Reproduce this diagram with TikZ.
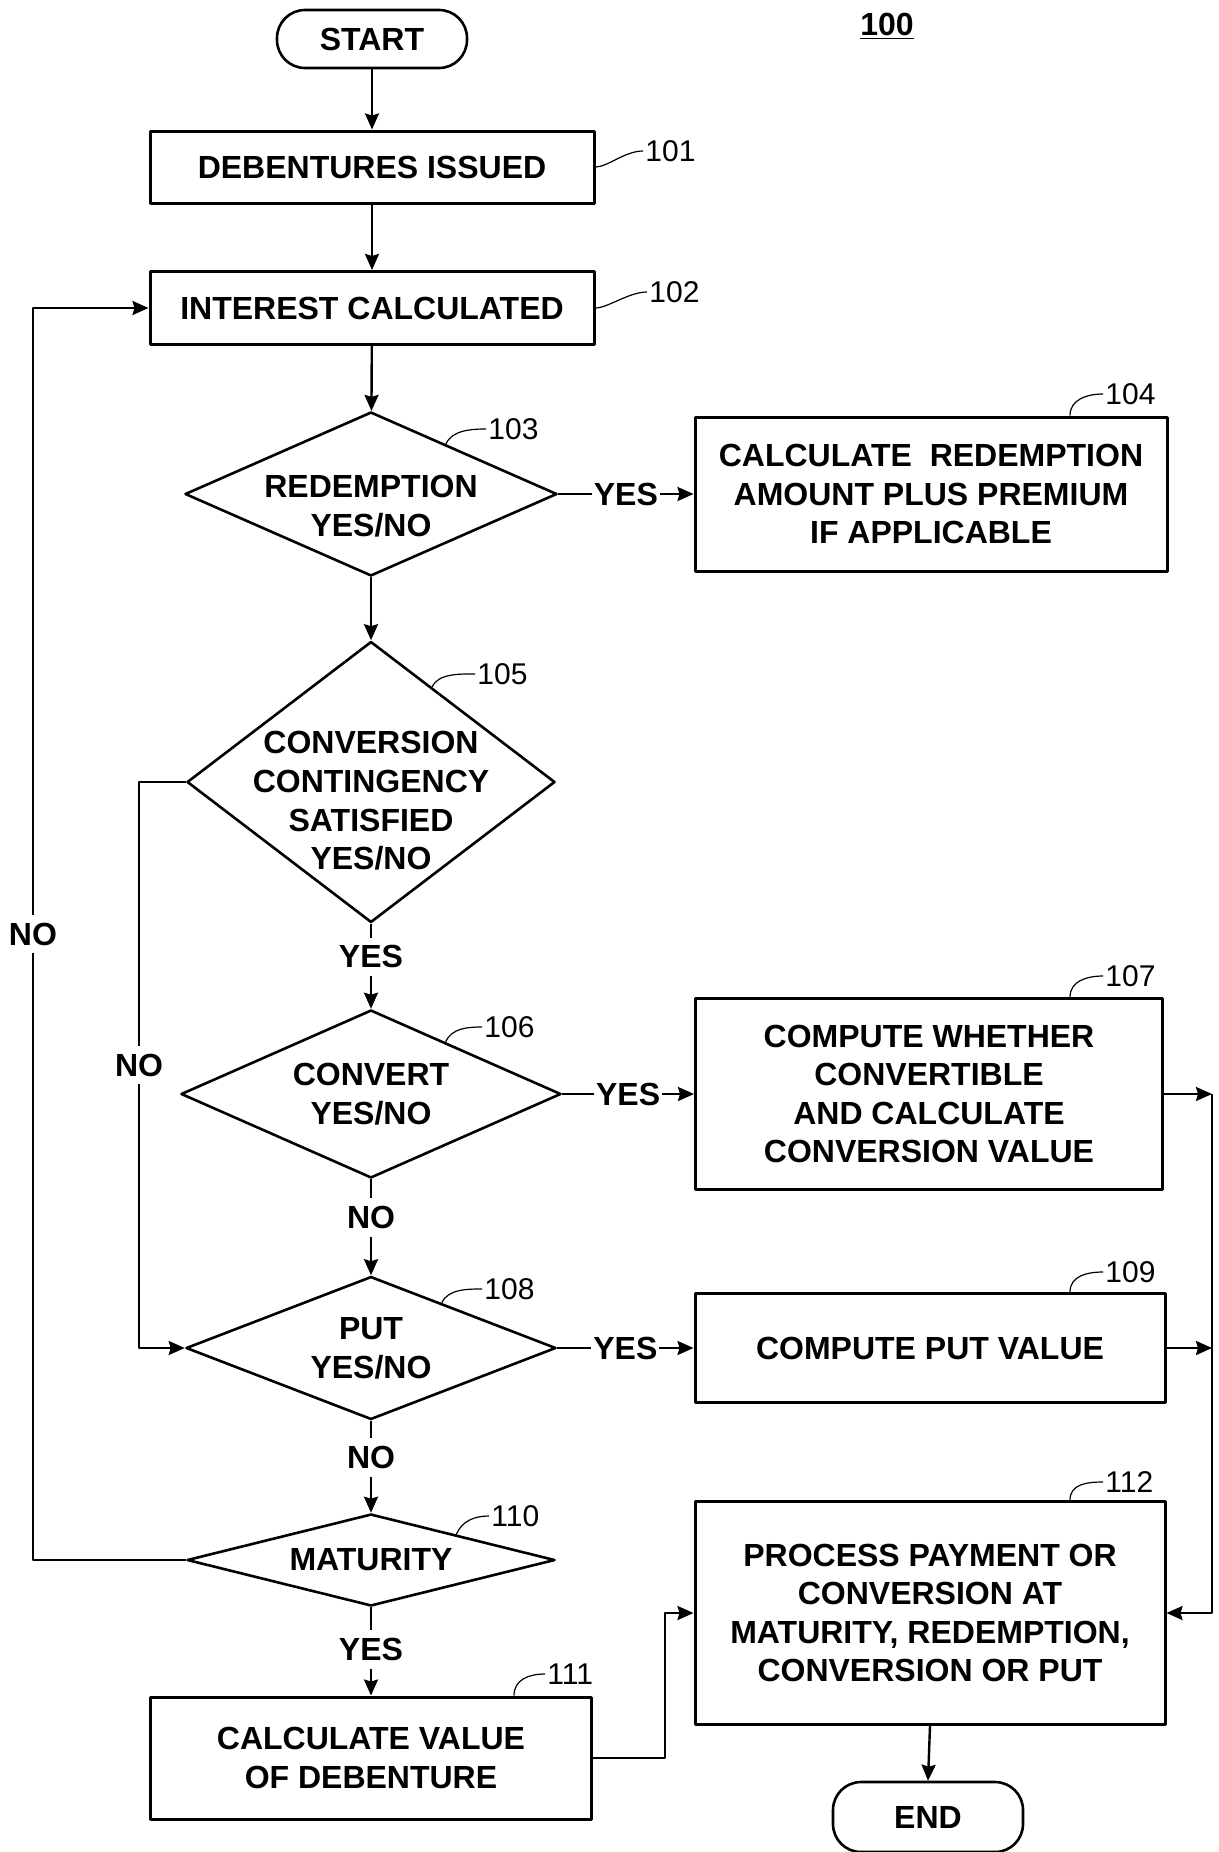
\documentclass[tikz,border=0pt]{standalone}
\usepackage{fontspec}
\setmainfont{Liberation Sans}
\usetikzlibrary{shapes.geometric,arrows.meta,calc}
\newcommand\flowfont{\fontsize{16}{19.3}\selectfont\bfseries}
\newcommand\reffont{\fontsize{15}{18}\selectfont}
\tikzset{
  terminal/.style={draw, line width=1.3pt, rounded corners=14pt, minimum width=95pt, minimum height=#1, inner sep=0pt, font=\flowfont},
  process/.style={draw, line width=1.5pt, align=center, inner sep=0pt, font=\flowfont},
  decision/.style={diamond, draw, line width=1.3pt, inner sep=0pt},
  txt/.style={align=center, inner sep=0pt, font=\flowfont},
  refnum/.style={anchor=west, inner sep=1pt, font=\reffont},
  leader/.style={line width=0.6pt},
  flow/.style={line width=1.2pt, -{Stealth[length=8pt,width=7pt,inset=1pt]}},
  lab/.style={fill=white, inner xsep=1pt, inner ysep=4pt, font=\flowfont}
}
\begin{document}
\begin{tikzpicture}[x=0.5pt, y=-0.5pt, line join=round]
\useasboundingbox (0,0) rectangle (1219,1852);
% main column
\node[terminal=29pt] (start) at (372,39) {START};
\node[font=\flowfont] (fig) at (887,26) {\underline{100}};
\node[process, minimum width=222pt, minimum height=36pt] (b101) at (372,167) {DEBENTURES ISSUED};
\node[process, minimum width=222pt, minimum height=36.5pt] (b102) at (372,308) {INTEREST CALCULATED};
\node[decision, minimum width=186pt, minimum height=82pt] (d103) at (371,494) {};
\node[txt] (t103) at ($(d103)+(0,12)$) {REDEMPTION\\YES/NO};
\node[decision, minimum width=184pt, minimum height=140.5pt] (d105) at (371,782) {};
\node[txt] (t105) at ($(d105)+(0,19)$) {CONVERSION\\CONTINGENCY\\SATISFIED\\YES/NO};
\node[decision, minimum width=190pt, minimum height=84pt] (d106) at (371,1094) {};
\node[txt] (t106) at (d106) {CONVERT\\YES/NO};
\node[decision, minimum width=185pt, minimum height=71.5pt] (d108) at (371,1348) {};
\node[txt] (t108) at (d108) {PUT\\YES/NO};
\node[decision, minimum width=184pt, minimum height=46pt] (d110) at (371,1560) {};
\node[txt] (t110) at (d110) {MATURITY};
\node[process, minimum width=220.5pt, minimum height=61pt] (b111) at (371,1758) {CALCULATE VALUE\\OF DEBENTURE};
% right column
\node[process, minimum width=236pt, minimum height=77pt] (b104) at (931,494) {CALCULATE\ \ REDEMPTION\\AMOUNT PLUS PREMIUM\\IF APPLICABLE};
\node[process, minimum width=233.5pt, minimum height=95.5pt] (b107) at (929,1094) {COMPUTE WHETHER\\CONVERTIBLE\\AND CALCULATE\\CONVERSION VALUE};
\node[process, minimum width=235pt, minimum height=54.5pt] (b109) at (930,1348) {COMPUTE PUT VALUE};
\node[process, minimum width=235pt, minimum height=111.5pt] (b112) at (930,1613) {PROCESS PAYMENT OR\\CONVERSION AT\\MATURITY, REDEMPTION,\\CONVERSION OR PUT};
\node[terminal=35pt] (end) at (928,1817) {END};
% reference numbers
\node[refnum] (r101) at (643,151) {101};
\node[refnum] (r102) at (647,292) {102};
\node[refnum] (r103) at (486,429) {103};
\node[refnum] (r104) at (1103,394) {104};
\node[refnum] (r105) at (475,674) {105};
\node[refnum] (r106) at (482,1027) {106};
\node[refnum] (r107) at (1103,976) {107};
\node[refnum] (r108) at (482,1289) {108};
\node[refnum] (r109) at (1103,1272) {109};
\node[refnum] (r110) at (489,1516) {110};
\node[refnum] (r111) at (545,1674) {111};
\node[refnum] (r112) at (1103,1482) {112};
\draw[leader] (b101.east) .. controls +(12,0) and +(-18,0) .. (r101.west);
\draw[leader] (b102.east) .. controls +(12,0) and +(-18,0) .. (r102.west);
\foreach \d/\t in {103/0.4,105/0.33,106/0.39,108/0.38,110/0.46}
  \draw[leader] ($(d\d.north)!\t!(d\d.east)$) .. controls +(6,-14) and +(-14,0) .. (r\d.west);
\foreach \b/\s in {104/139,107/141,109/140,112/140}
  \draw[leader] ($(b\b.north)+(\s,0)$) .. controls +(0,-16) and +(-16,0) .. (r\b.west);
\draw[leader] ($(b111.north)+(143,0)$) .. controls +(0,-16) and +(-16,0) .. (r111.west);
% connectors
\coordinate (loopx) at (33,0);
\coordinate (nox) at (139,0);
\coordinate (busx) at (1212,0);
\coordinate (jx) at (665,0);
\draw[flow] (start) -- (b101);
\draw[flow] (b101) -- (b102);
\draw[flow] (b102) -- (d103);
\draw[flow] (d103) -- (d105);
\draw[flow] (d103.east) -- node[lab]{YES} (b104.west);
\draw[flow] (d105.south) -- node[lab,pos=0.39]{YES} (d106.north);
\draw[flow] (d106.east) -- node[lab]{YES} (b107.west);
\draw[flow] (d106.south) -- node[lab,pos=0.4]{NO} (d108.north);
\draw[flow] (d108.east) -- node[lab]{YES} (b109.west);
\draw[flow] (d108.south) -- node[lab,pos=0.4]{NO} (d110.north);
\draw[flow] (d110.south) -- node[lab,pos=0.48]{YES} (b111.north);
\draw[flow] (d105.west) -- (d105.west -| nox) -- node[lab,pos=0.5]{NO} (d108.west -| nox) -- (d108.west);
\draw[flow] (d110.west) -- (d110.west -| loopx) -- node[lab,pos=0.5]{NO} (b102.west -| loopx) -- (b102.west);
\draw[flow] (b107.east) -- (b107.east -| busx);
\draw[flow] (b109.east) -- (b109.east -| busx);
\draw[flow] (b107.east -| busx) -- (b112.east -| busx) -- (b112.east);
\draw[flow] (b111.east) -- (b111.east -| jx) -- (b112.west -| jx) -- (b112.west);
\draw[flow] (b112.south) -- (end.north);
\end{tikzpicture}
\end{document}
